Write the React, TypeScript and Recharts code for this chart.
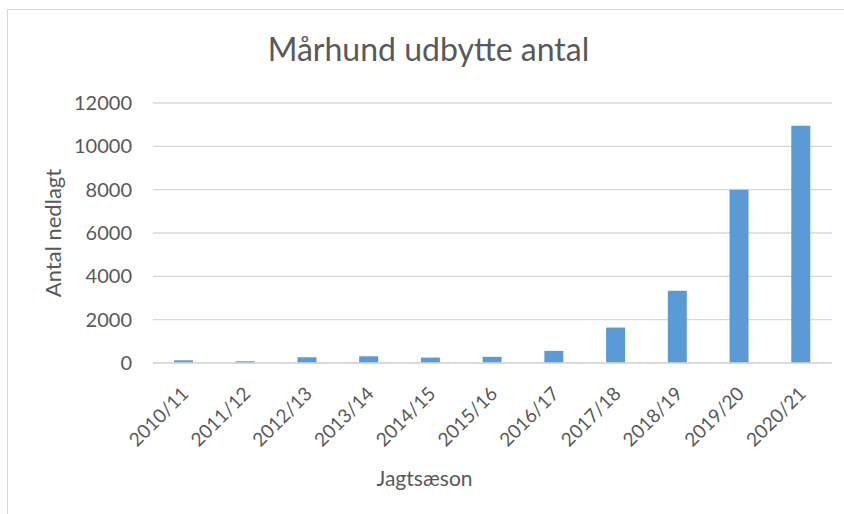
import { BarChart, Bar, XAxis, YAxis, CartesianGrid } from 'recharts';

const seasons = [
  '2010/11', '2011/12', '2012/13', '2013/14', '2014/15', '2015/16',
  '2016/17', '2017/18', '2018/19', '2019/20', '2020/21',
];
const killed = [125, 80, 265, 310, 250, 285, 560, 1635, 3340, 8000, 10955];
const yTicks = [0, 2000, 4000, 6000, 8000, 10000, 12000];

const chartData = seasons.map((s, i) => ({ season: s, antal: killed[i] }));

const FONT = 'Lato, "Open Sans", sans-serif';
const GREY = '#595959';

function SeasonTick(props: any) {
  const { x, y, payload } = props;
  const ax = x + 6;
  const ay = y + 32;
  return (
    <text
      x={ax}
      y={ay}
      textAnchor="end"
      fill={GREY}
      fontSize={19}
      fontFamily={FONT}
      transform={`rotate(-45, ${ax}, ${ay})`}
    >
      {payload.value}
    </text>
  );
}

export default function App() {
  return (
    <div style={{ position: 'absolute', left: 0, top: 0, width: 844, height: 514, background: '#fff', overflow: 'hidden' }}>
      <div
        style={{
          position: 'absolute', left: 7, top: 9, width: 900, height: 600,
          borderLeft: '1px solid #d9d9d9', borderTop: '1px solid #d9d9d9',
        }}
      />
      <div
        style={{
          position: 'absolute', left: 0, top: 29, width: 857, textAlign: 'center',
          fontFamily: FONT, fontSize: 32, color: GREY, lineHeight: '40px',
        }}
      >
        Mårhund udbytte antal
      </div>
      <div style={{ position: 'absolute', left: 0, top: 0 }}>
        <BarChart
          width={844}
          height={514}
          data={chartData}
          margin={{ top: 103, right: 12, bottom: 0, left: 0 }}
          barSize={19}
        >
          <CartesianGrid vertical={false} stroke="#d9d9d9" strokeWidth={1.3} />
          <XAxis
            dataKey="season"
            height={151}
            tickLine={false}
            axisLine={{ stroke: '#d9d9d9', strokeWidth: 1.3 }}
            tickSize={0}
            tickMargin={0}
            interval={0}
            tick={<SeasonTick />}
            label={{
              value: 'Jagtsæson', position: 'insideBottom', offset: 28, dx: -68,
              fill: GREY, fontSize: 21, fontFamily: FONT,
            }}
          />
          <YAxis
            width={153}
            domain={[0, 12000]}
            ticks={yTicks}
            interval={0}
            axisLine={false}
            tickLine={false}
            tickSize={0}
            tickMargin={21}
            tick={{ fill: GREY, fontSize: 20, fontFamily: FONT }}
            label={{
              value: 'Antal nedlagt', angle: -90, position: 'insideLeft', offset: 53,
              fill: GREY, fontSize: 22, fontFamily: FONT, style: { textAnchor: 'middle' },
            }}
          />
          <Bar dataKey="antal" fill="#5b9bd5" isAnimationActive={false} />
        </BarChart>
      </div>
    </div>
  );
}
